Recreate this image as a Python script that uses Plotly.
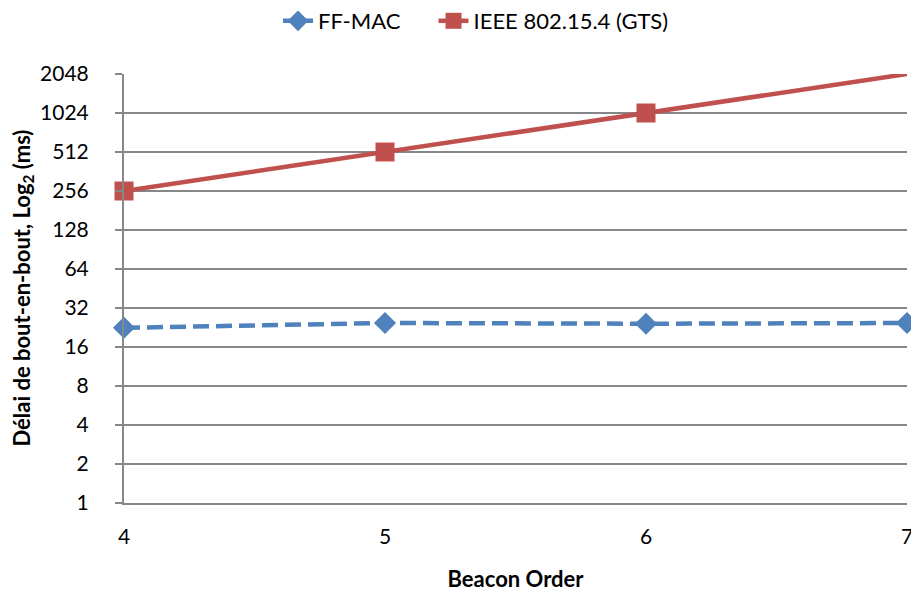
import plotly.graph_objects as go

beacon_order = [4, 5, 6, 7]
ffmac = [22.5, 24.5, 24.2, 24.5]
ieee_gts = [256, 512, 1024, 2048]
y_ticks = [1, 2, 4, 8, 16, 32, 64, 128, 256, 512, 1024, 2048]

FONT = "Lato"
GRID = "#878787"
FS = 21

L, R, T, B = 124, 4, 74, 89
W, H = 911, 592
PW = W - L - R

fig = go.Figure()
fig.add_trace(go.Scatter(
    x=beacon_order, y=ffmac, name="FF-MAC" + "\u00a0" * 5, mode="lines+markers",
    line=dict(color="#4F81BD", width=4.5, dash="16px,7px"),
    marker=dict(symbol="diamond", size=17, color="#4F81BD"),
    cliponaxis=False,
))
fig.add_trace(go.Scatter(
    x=beacon_order, y=ieee_gts, name="IEEE 802.15.4 (GTS)", mode="lines+markers",
    line=dict(color="#C0504D", width=4.5),
    marker=dict(symbol="square", size=19, color="#C0504D"),
    cliponaxis=False,
))

fig.update_layout(
    width=W, height=H,
    margin=dict(l=L, r=R, t=T, b=B, autoexpand=False),
    paper_bgcolor="white", plot_bgcolor="white",
    font=dict(family=FONT, size=FS, color="#000000"),
    legend=dict(orientation="h", x=(476 - L) / PW, xanchor="center", y=1.0, yanchor="top",
                yref="container", font=dict(size=22), traceorder="normal"),
    showlegend=True,
)

fig.update_xaxes(
    range=[4, 7], tickvals=beacon_order, ticktext=[str(v) for v in beacon_order],
    showgrid=False, zeroline=False, showline=True, linecolor=GRID, linewidth=2,
    ticks="", ticklabelstandoff=14, ticklabeloverflow="allow", automargin=False,
    title=dict(text="<b>Beacon Order</b>", font=dict(size=22), standoff=29),
)
fig.update_yaxes(
    type="log", range=[0, 3.3113], tickvals=y_ticks, ticktext=[str(v) for v in y_ticks],
    showgrid=True, gridcolor=GRID, gridwidth=2, zeroline=False,
    showline=True, linecolor=GRID, linewidth=2,
    ticks="outside", ticklen=7, tickcolor=GRID, tickwidth=2,
    ticklabelstandoff=22, automargin=False,
)
fig.add_annotation(
    text="<b>Délai de bout-en-bout, Log<sub>2</sub> (ms)</b>",
    xref="paper", yref="paper", x=(22 - L) / PW, y=0.5,
    xanchor="center", yanchor="middle", textangle=-90, showarrow=False,
    font=dict(size=22),
)

fig.write_html("out.html", config={"displayModeBar": False},
               post_script="document.body.style.margin='0';")
